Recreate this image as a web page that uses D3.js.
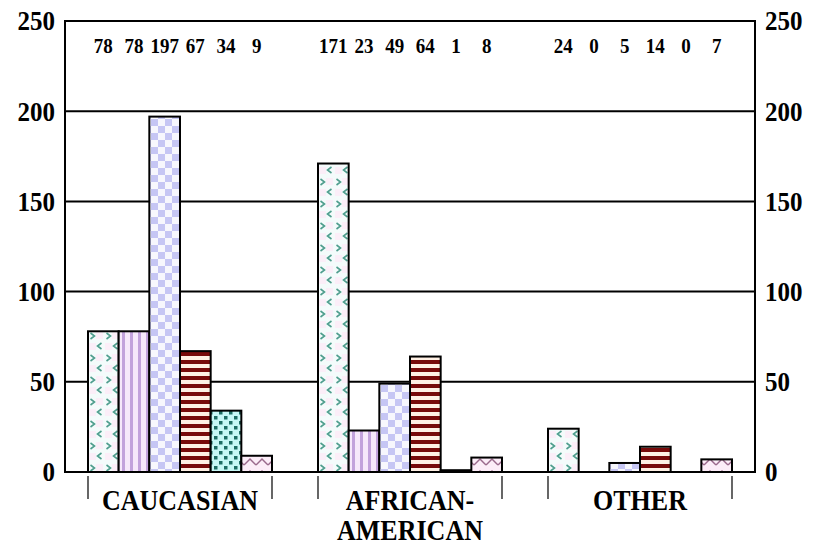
<!DOCTYPE html>
<html>
<head>
<meta charset="utf-8">
<script src="https://cdn.jsdelivr.net/npm/d3@7"></script>
<style>
  body { margin: 0; background: #fff; }
  text { font-family: "Liberation Serif", "Times New Roman", serif; font-weight: bold; fill: #000; }
</style>
</head>
<body>
<script>
var w = 816;
var h = 545;
var plotLeft = 65, plotRight = 755, plotTop = 21, plotBottom = 472;
var stretch = 1.1; // the source font is a bit taller than Liberation Serif

// Data
var categories = ["CAUCASIAN", "AFRICAN-AMERICAN", "OTHER"];
var categoryLines = [["CAUCASIAN"], ["AFRICAN-", "AMERICAN"], ["OTHER"]];
var series1 = [78, 171, 24];
var series2 = [78, 23, 0];
var series3 = [197, 49, 5];
var series4 = [67, 64, 14];
var series5 = [34, 1, 0];
var series6 = [9, 8, 7];
var yTicks = [0, 50, 100, 150, 200, 250];

var allSeries = [series1, series2, series3, series4, series5, series6];
var seriesKeys = ["s1", "s2", "s3", "s4", "s5", "s6"];

// Scales
var xScale = d3.scaleBand()
    .domain(categories)
    .range([plotLeft, plotRight])
    .paddingInner(0.2)
    .paddingOuter(0.1);

var xInner = d3.scaleBand()
    .domain(seriesKeys)
    .range([0, xScale.bandwidth()]);

var yScale = d3.scaleLinear()
    .domain([0, 250])
    .range([plotBottom, plotTop]);

var svg = d3.select("body")
    .append("svg")
    .attr("width", w)
    .attr("height", h);

// Patterns
var defs = svg.append("defs");

// 1: chevrons on pale background
var p1 = defs.append("pattern").attr("id", "p1").attr("patternUnits", "userSpaceOnUse")
    .attr("width", 16).attr("height", 22);
p1.append("rect").attr("width", 16).attr("height", 22).attr("fill", "#f4fbfb");
p1.append("rect").attr("x", 8).attr("y", 2).attr("width", 7).attr("height", 7).attr("fill", "#fbeef8");
p1.append("rect").attr("x", 1).attr("y", 13).attr("width", 7).attr("height", 7).attr("fill", "#fbeef8");
p1.append("path").attr("d", "M2.5,3 L6.5,6 L2.5,9").attr("fill", "none").attr("stroke", "#4f9e8e").attr("stroke-width", 1.6);
p1.append("path").attr("d", "M13.5,13 L9.5,16 L13.5,19").attr("fill", "none").attr("stroke", "#4f9e8e").attr("stroke-width", 1.6);

// 2: vertical stripes
var p2 = defs.append("pattern").attr("id", "p2").attr("patternUnits", "userSpaceOnUse")
    .attr("width", 8).attr("height", 8);
p2.append("rect").attr("width", 8).attr("height", 8).attr("fill", "#f6e8fb");
p2.append("rect").attr("x", 2).attr("width", 3).attr("height", 8).attr("fill", "#c2a2dc");

// 3: checkerboard
var p3 = defs.append("pattern").attr("id", "p3").attr("patternUnits", "userSpaceOnUse")
    .attr("width", 14).attr("height", 14);
p3.append("rect").attr("width", 14).attr("height", 14).attr("fill", "#f7f7fd");
p3.append("rect").attr("width", 7).attr("height", 7).attr("fill", "#c6c6f4");
p3.append("rect").attr("x", 7).attr("y", 7).attr("width", 7).attr("height", 7).attr("fill", "#c6c6f4");

// 4: horizontal stripes
var p4 = defs.append("pattern").attr("id", "p4").attr("patternUnits", "userSpaceOnUse")
    .attr("width", 8).attr("height", 8);
p4.append("rect").attr("width", 8).attr("height", 8).attr("fill", "#fff0e4");
p4.append("rect").attr("width", 8).attr("height", 4).attr("fill", "#780a0a");

// 5: dots on cyan
var p5 = defs.append("pattern").attr("id", "p5").attr("patternUnits", "userSpaceOnUse")
    .attr("width", 10).attr("height", 10);
p5.append("rect").attr("width", 10).attr("height", 10).attr("fill", "#c8f8f6");
p5.append("rect").attr("x", 1).attr("y", 1).attr("width", 3.5).attr("height", 3.5).attr("fill", "#1f6e64");
p5.append("rect").attr("x", 6).attr("y", 6).attr("width", 3.5).attr("height", 3.5).attr("fill", "#1f6e64");

// 6: zigzag
var p6 = defs.append("pattern").attr("id", "p6").attr("patternUnits", "userSpaceOnUse")
    .attr("width", 12).attr("height", 12);
p6.append("rect").attr("width", 12).attr("height", 12).attr("fill", "#fcedf8");
p6.append("path").attr("d", "M0,9 L6,3 L12,9").attr("fill", "none").attr("stroke", "#9a6a8c").attr("stroke-width", 1.5);

// Gridlines
svg.append("g")
    .selectAll("line")
    .data(yTicks.filter(function(d) { return d > 0 && d < 250; }))
    .join("line")
    .attr("x1", plotLeft)
    .attr("x2", plotRight)
    .attr("y1", function(d) { return yScale(d); })
    .attr("y2", function(d) { return yScale(d); })
    .attr("stroke", "#000")
    .attr("stroke-width", 2);

// Bars
var groups = svg.append("g")
    .selectAll("g")
    .data(categories)
    .join("g")
    .attr("transform", function(d) { return "translate(" + xScale(d) + ",0)"; });

groups.selectAll("rect")
    .data(function(d, gi) {
        return allSeries.map(function(s, si) { return { key: seriesKeys[si], value: s[gi], idx: si }; });
    })
    .join("rect")
    .attr("x", function(d) { return xInner(d.key); })
    .attr("y", function(d) { return yScale(d.value); })
    .attr("width", xInner.bandwidth())
    .attr("height", function(d) { return plotBottom - yScale(d.value); })
    .attr("fill", function(d) { return "url(#p" + (d.idx + 1) + ")"; })
    .attr("stroke", "#000")
    .attr("stroke-width", function(d) { return d.value > 0 ? 2 : 0; });

// Value labels at top
groups.selectAll("text.val")
    .data(function(d, gi) {
        return allSeries.map(function(s, si) { return { key: seriesKeys[si], value: s[gi] }; });
    })
    .join("text")
    .attr("class", "val")
    .attr("transform", function(d) {
        return "translate(" + (xInner(d.key) + xInner.bandwidth() / 2) + ",53) scale(1," + (stretch + 0.05) + ")";
    })
    .attr("text-anchor", "middle")
    .attr("font-size", 19)
    .text(function(d) { return d.value; });

// Frame
svg.append("rect")
    .attr("x", plotLeft)
    .attr("y", plotTop)
    .attr("width", plotRight - plotLeft)
    .attr("height", plotBottom - plotTop)
    .attr("fill", "none")
    .attr("stroke", "#000")
    .attr("stroke-width", 2);

// Y axes
var yAxisL = d3.axisLeft(yScale).tickValues(yTicks).tickSize(0).tickPadding(10);
var yAxisR = d3.axisRight(yScale).tickValues(yTicks).tickSize(0).tickPadding(10);

var gL = svg.append("g")
    .attr("transform", "translate(" + plotLeft + ",0)")
    .call(yAxisL);
var gR = svg.append("g")
    .attr("transform", "translate(" + plotRight + ",0)")
    .call(yAxisR);
[gL, gR].forEach(function(g) {
    g.select(".domain").remove();
    g.selectAll("text")
        .attr("font-size", 25)
        .attr("font-family", "Liberation Serif, Times New Roman, serif")
        .attr("font-weight", "bold")
        .attr("fill", "#000")
        .attr("transform", "scale(1," + stretch + ")");
});

// Category separators and labels
var cats = svg.append("g")
    .selectAll("g")
    .data(categories)
    .join("g")
    .attr("transform", function(d) { return "translate(" + xScale(d) + ",0)"; });

cats.append("line")
    .attr("x1", 0).attr("x2", 0)
    .attr("y1", 476).attr("y2", 499)
    .attr("stroke", "#000").attr("stroke-width", 1.2);
cats.append("line")
    .attr("x1", xScale.bandwidth()).attr("x2", xScale.bandwidth())
    .attr("y1", 476).attr("y2", 499)
    .attr("stroke", "#000").attr("stroke-width", 1.2);

cats.selectAll("text")
    .data(function(d, i) { return categoryLines[i]; })
    .join("text")
    .attr("transform", function(d, i) {
        return "translate(" + (xScale.bandwidth() / 2) + "," + (510 + i * 30) + ") scale(1," + stretch + ")";
    })
    .attr("text-anchor", "middle")
    .attr("font-size", 26)
    .text(function(d) { return d; });
</script>
</body>
</html>
